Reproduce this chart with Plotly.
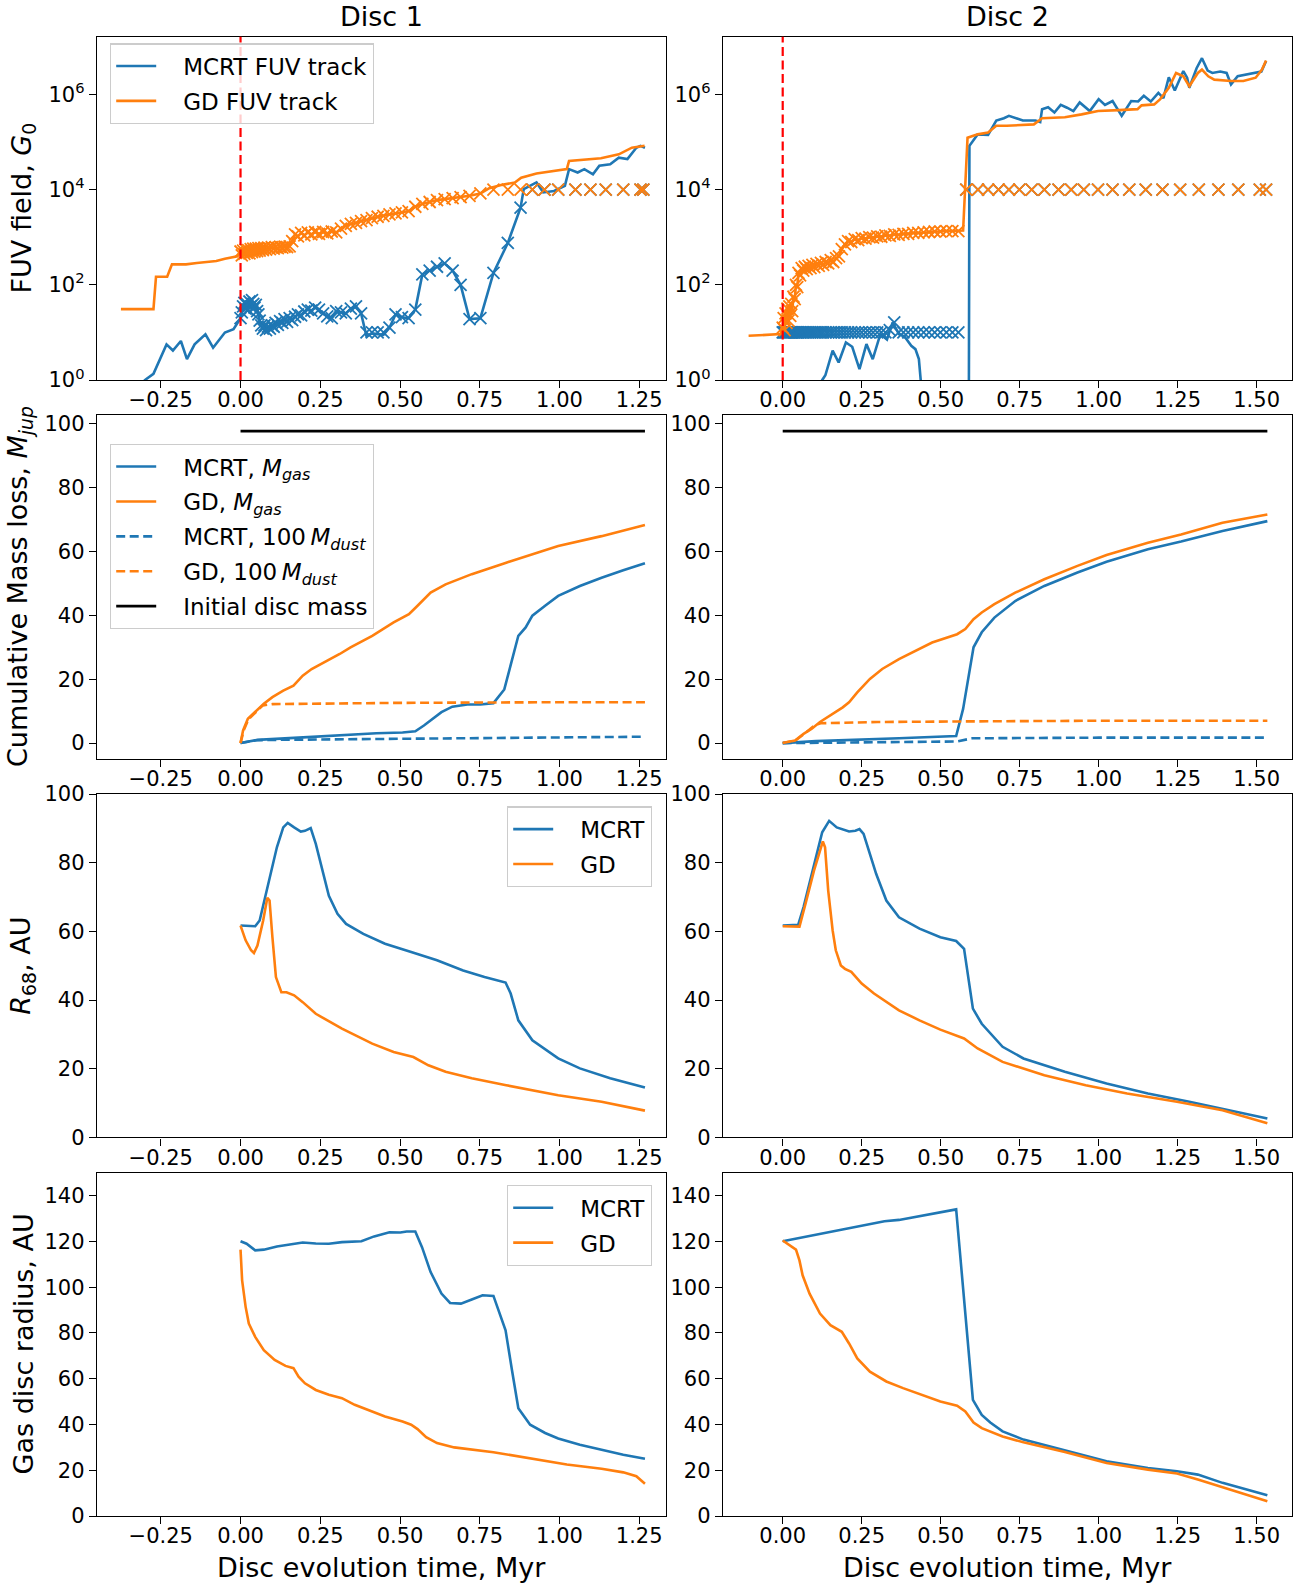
import plotly.graph_objects as go

BLUE = '#1f77b4'
ORANGE = '#ff7f0e'
FONT = 'DejaVu Sans'
W, H = 1300, 1585

# ---------------- DATA ----------------
# Row 1, Disc 1 : FUV field (log10 G0) vs time (Myr)
d1_mcrt_line_t = [-0.32, -0.300, -0.273, -0.232, -0.212, -0.187, -0.168, -0.144, -0.110, -0.086, -0.049, -0.022,
                  0.000, 0.004, 0.008, 0.012, 0.016, 0.020, 0.024, 0.028, 0.032, 0.036, 0.040, 0.044, 0.048, 0.052,
                  0.056, 0.060, 0.065, 0.070, 0.075, 0.080, 0.086, 0.092, 0.098, 0.104, 0.110, 0.117, 0.124, 0.131,
                  0.138, 0.146, 0.154, 0.162, 0.171, 0.180, 0.190, 0.200, 0.211, 0.222, 0.234, 0.246, 0.259, 0.272,
                  0.286, 0.300, 0.315, 0.330, 0.346, 0.362, 0.378, 0.395, 0.412, 0.430, 0.448, 0.467, 0.486, 0.506,
                  0.527, 0.548, 0.570, 0.593, 0.616, 0.640, 0.665, 0.690, 0.718, 0.752, 0.793, 0.838, 0.878, 0.888,
                  0.928, 0.949, 0.983, 1.017, 1.030, 1.057, 1.078, 1.105, 1.125, 1.159, 1.186, 1.213, 1.241, 1.254, 1.268]
d1_mcrt_line_logG0 = [-0.2, 0.0, 0.13, 0.75, 0.62, 0.82, 0.44, 0.75, 0.96, 0.68, 1.00, 1.07,
                      1.30, 1.42, 1.55, 1.62, 1.50, 1.60, 1.48, 1.65, 1.55, 1.68, 1.60, 1.52, 1.58, 1.45,
                      1.38, 1.25, 1.15, 1.08, 1.15, 1.05, 1.12, 1.08, 1.15, 1.12, 1.20, 1.16, 1.24, 1.20,
                      1.28, 1.22, 1.30, 1.26, 1.33, 1.38, 1.36, 1.44, 1.48, 1.46, 1.52, 1.48, 1.40, 1.34,
                      1.30, 1.45, 1.42, 1.40, 1.50, 1.55, 1.40, 0.92, 0.98, 0.97, 0.95, 1.10, 1.38, 1.32,
                      1.30, 1.48, 2.22, 2.30, 2.38, 2.45, 2.30, 2.00, 1.28, 1.30, 2.25, 2.88, 3.62, 4.01,
                      4.15, 3.94, 3.97, 4.08, 4.43, 4.36, 4.43, 4.32, 4.50, 4.53, 4.67, 4.64, 4.88, 4.92, 4.88]
d1_marker_t = [0.000, 0.004, 0.008, 0.012, 0.016, 0.020, 0.024, 0.028, 0.032, 0.036, 0.040, 0.044, 0.048, 0.052,
               0.056, 0.060, 0.065, 0.070, 0.075, 0.080, 0.086, 0.092, 0.098, 0.104, 0.110, 0.117, 0.124, 0.131,
               0.138, 0.146, 0.154, 0.162, 0.171, 0.180, 0.190, 0.200, 0.211, 0.222, 0.234, 0.246, 0.259, 0.272,
               0.286, 0.300, 0.315, 0.330, 0.346, 0.362, 0.378, 0.395, 0.412, 0.430, 0.448, 0.467, 0.486, 0.506,
               0.527, 0.548, 0.570, 0.593, 0.616, 0.640, 0.665, 0.690, 0.718, 0.752, 0.793, 0.838, 0.878, 0.915,
               0.953, 0.996, 1.050, 1.097, 1.145, 1.200, 1.254, 1.263]
d1_mcrt_marker_logG0 = [1.30, 1.42, 1.55, 1.62, 1.50, 1.60, 1.48, 1.65, 1.55, 1.68, 1.60, 1.52, 1.58, 1.45,
                        1.38, 1.25, 1.15, 1.08, 1.15, 1.05, 1.12, 1.08, 1.15, 1.12, 1.20, 1.16, 1.24, 1.20,
                        1.28, 1.22, 1.30, 1.26, 1.33, 1.38, 1.36, 1.44, 1.48, 1.46, 1.52, 1.48, 1.40, 1.34,
                        1.30, 1.45, 1.42, 1.40, 1.50, 1.55, 1.40, 1.00, 1.00, 1.00, 1.00, 1.10, 1.38, 1.32,
                        1.30, 1.48, 2.22, 2.30, 2.38, 2.45, 2.30, 2.00, 1.28, 1.30, 2.25, 2.88, 3.62, 4.0,
                        4.0, 4.0, 4.0, 4.0, 4.0, 4.0, 4.0, 4.0]
d1_gd_marker_logG0 = [2.70, 2.62, 2.72, 2.65, 2.74, 2.67, 2.73, 2.66, 2.75, 2.69, 2.76, 2.70, 2.76, 2.71,
                      2.77, 2.72, 2.77, 2.73, 2.78, 2.74, 2.78, 2.75, 2.79, 2.76, 2.79, 2.77, 2.80, 2.78,
                      2.80, 2.79, 2.81, 2.92, 3.06, 3.02, 3.09, 3.04, 3.10, 3.06, 3.11, 3.07, 3.11, 3.08,
                      3.12, 3.10, 3.18, 3.24, 3.28, 3.30, 3.34, 3.36, 3.40, 3.43, 3.45, 3.48, 3.50, 3.52,
                      3.55, 3.64, 3.70, 3.74, 3.78, 3.80, 3.82, 3.84, 3.87, 3.92, 4.0, 4.0, 4.0, 4.0,
                      4.0, 4.0, 4.0, 4.0, 4.0, 4.0, 4.0, 4.0]
d1_gd_line_t = [-0.375, -0.273, -0.265, -0.230, -0.215, -0.171, -0.137, -0.076, -0.049, -0.010,
                0.000, 0.004, 0.008, 0.012, 0.016, 0.020, 0.024, 0.028, 0.032, 0.036, 0.040, 0.044, 0.048, 0.052,
                0.056, 0.060, 0.065, 0.070, 0.075, 0.080, 0.086, 0.092, 0.098, 0.104, 0.110, 0.117, 0.124, 0.131,
                0.138, 0.146, 0.154, 0.162, 0.171, 0.180, 0.190, 0.200, 0.211, 0.222, 0.234, 0.246, 0.259, 0.272,
                0.286, 0.300, 0.315, 0.330, 0.346, 0.362, 0.378, 0.395, 0.412, 0.430, 0.448, 0.467, 0.486, 0.506,
                0.527, 0.548, 0.570, 0.593, 0.616, 0.640, 0.665, 0.690, 0.718, 0.752,
                0.780, 0.820, 0.860, 0.880, 0.928, 1.023, 1.030, 1.130, 1.186, 1.227, 1.267]
d1_gd_line_logG0 = [1.49, 1.49, 2.17, 2.17, 2.43, 2.43, 2.46, 2.50, 2.55, 2.60,
                    2.70, 2.62, 2.72, 2.65, 2.74, 2.67, 2.73, 2.66, 2.75, 2.69, 2.76, 2.70, 2.76, 2.71,
                    2.77, 2.72, 2.77, 2.73, 2.78, 2.74, 2.78, 2.75, 2.79, 2.76, 2.79, 2.77, 2.80, 2.78,
                    2.80, 2.79, 2.81, 2.92, 3.06, 3.02, 3.09, 3.04, 3.10, 3.06, 3.11, 3.07, 3.11, 3.08,
                    3.12, 3.10, 3.18, 3.24, 3.28, 3.30, 3.34, 3.36, 3.40, 3.43, 3.45, 3.48, 3.50, 3.52,
                    3.55, 3.64, 3.70, 3.74, 3.78, 3.80, 3.82, 3.84, 3.87, 3.92,
                    4.03, 4.10, 4.15, 4.25, 4.34, 4.43, 4.60, 4.66, 4.74, 4.88, 4.92]

# Row 1, Disc 2
d2_marker_t = [0.000, 0.003, 0.006, 0.009, 0.012, 0.015, 0.018, 0.021, 0.024, 0.027, 0.030, 0.034, 0.038, 0.042,
               0.046, 0.050, 0.055, 0.060, 0.065, 0.070, 0.076, 0.082, 0.088, 0.094, 0.100, 0.107, 0.114, 0.121,
               0.128, 0.136, 0.144, 0.152, 0.160, 0.169, 0.178, 0.187, 0.197, 0.207, 0.217, 0.228, 0.239, 0.250,
               0.262, 0.274, 0.286, 0.299, 0.312, 0.325, 0.339, 0.353, 0.367, 0.382, 0.397, 0.413, 0.429, 0.446,
               0.463, 0.481, 0.499, 0.518, 0.537, 0.556, 0.581, 0.618, 0.650, 0.683, 0.716, 0.749, 0.788, 0.828,
               0.873, 0.913, 0.953, 0.998, 1.044, 1.097, 1.149, 1.202, 1.258, 1.317, 1.379, 1.442, 1.510, 1.530]
d2_mcrt_marker_logG0 = [1.0] * 48 + [1.05, 1.21] + [1.0] * 12 + [4.0] * 22
d2_gd_marker_logG0 = [1.10, 1.30, 1.05, 1.40, 1.20, 1.50, 1.25, 1.55, 1.35, 1.60, 1.45, 1.75, 1.70, 2.00,
                      1.95, 2.25, 2.20, 2.35, 2.30, 2.38, 2.33, 2.40, 2.35, 2.42, 2.37, 2.44, 2.40, 2.46,
                      2.42, 2.48, 2.45, 2.52, 2.48, 2.56, 2.60, 2.75, 2.85, 2.92, 2.90, 2.96, 2.94, 2.98,
                      2.97, 3.00, 2.99, 3.02, 3.01, 3.04, 3.03, 3.06, 3.05, 3.07, 3.07, 3.09, 3.09, 3.10,
                      3.11, 3.12, 3.12, 3.13, 3.13, 3.13] + [4.0] * 22
d2_gd_line_t = [-0.108, -0.007,
                0.000, 0.003, 0.006, 0.009, 0.012, 0.015, 0.018, 0.021, 0.024, 0.027, 0.030, 0.034, 0.038, 0.042,
                0.046, 0.050, 0.055, 0.060, 0.065, 0.070, 0.076, 0.082, 0.088, 0.094, 0.100, 0.107, 0.114, 0.121,
                0.128, 0.136, 0.144, 0.152, 0.160, 0.169, 0.178, 0.187, 0.197, 0.207, 0.217, 0.228, 0.239, 0.250,
                0.262, 0.274, 0.286, 0.299, 0.312, 0.325, 0.339, 0.353, 0.367, 0.382, 0.397, 0.413, 0.429, 0.446,
                0.463, 0.481, 0.499, 0.518, 0.537, 0.556,
                0.571, 0.585, 0.617, 0.650, 0.676, 0.709, 0.795, 0.821, 0.893, 0.946, 0.998, 1.064, 1.123, 1.136,
                1.176, 1.195, 1.222, 1.245, 1.268, 1.287, 1.314, 1.327, 1.347, 1.366, 1.419, 1.458, 1.497, 1.517, 1.530]
d2_gd_line_logG0 = [0.93, 0.965,
                    1.10, 1.30, 1.05, 1.40, 1.20, 1.50, 1.25, 1.55, 1.35, 1.60, 1.45, 1.75, 1.70, 2.00,
                    1.95, 2.25, 2.20, 2.35, 2.30, 2.38, 2.33, 2.40, 2.35, 2.42, 2.37, 2.44, 2.40, 2.46,
                    2.42, 2.48, 2.45, 2.52, 2.48, 2.56, 2.60, 2.75, 2.85, 2.92, 2.90, 2.96, 2.94, 2.98,
                    2.97, 3.00, 2.99, 3.02, 3.01, 3.04, 3.03, 3.06, 3.05, 3.07, 3.07, 3.09, 3.09, 3.10,
                    3.11, 3.12, 3.12, 3.13, 3.13, 3.13,
                    3.14, 5.09, 5.16, 5.20, 5.34, 5.34, 5.37, 5.50, 5.52, 5.58, 5.65, 5.67, 5.69, 5.77,
                    5.79, 5.90, 6.14, 6.45, 6.38, 6.17, 6.45, 6.52, 6.38, 6.31, 6.28, 6.28, 6.35, 6.52, 6.71]
d2_mcrt_line_t = [-0.110, 0.110, 0.125, 0.135, 0.158, 0.177, 0.200, 0.220, 0.243, 0.265, 0.285, 0.309, 0.330,
                  0.348, 0.368, 0.385, 0.407, 0.420, 0.431, 0.436, 0.450, 0.589, 0.591, 0.617, 0.650, 0.676,
                  0.700, 0.716, 0.760, 0.800, 0.815, 0.821, 0.840, 0.860, 0.880, 0.900, 0.920, 0.940, 0.972,
                  1.000, 1.020, 1.044, 1.073, 1.103, 1.125, 1.143, 1.165, 1.189, 1.205, 1.222, 1.232, 1.241,
                  1.268, 1.280, 1.287, 1.310, 1.327, 1.345, 1.360, 1.385, 1.405, 1.419, 1.440, 1.470, 1.500,
                  1.515, 1.530]
d2_mcrt_line_logG0 = [-2.0, -1.0, 0.0, 0.10, 0.62, 0.37, 0.79, 0.70, 0.23, 0.755, 0.44, 0.965, 0.85,
                      1.21, 0.965, 0.92, 0.72, 0.65, 0.44, 0.0, -1.0, -1.0, 4.92, 5.16, 5.15, 5.45,
                      5.50, 5.55, 5.45, 5.45, 5.42, 5.69, 5.73, 5.62, 5.78, 5.72, 5.65, 5.83, 5.65,
                      5.90, 5.78, 5.86, 5.55, 5.86, 5.85, 5.97, 5.85, 6.03, 5.92, 6.36, 6.22, 6.08,
                      6.49, 6.35, 6.14, 6.55, 6.76, 6.50, 6.45, 6.48, 6.45, 6.21, 6.38, 6.42, 6.45,
                      6.48, 6.70]

# Row 2: cumulative mass loss (M_jup)
d1_mcrt_mgas_t = [0, 0.053, 0.182, 0.318, 0.426, 0.508, 0.548, 0.575, 0.630, 0.664, 0.711, 0.752, 0.793, 0.827,
                  0.847, 0.871, 0.894, 0.915, 0.955, 0.996, 1.064, 1.132, 1.200, 1.268]
d1_mcrt_mgas = [0, 1.0, 1.7, 2.5, 3.1, 3.3, 3.7, 5.5, 9.7, 11.4, 12.1, 12.1, 12.5, 16.8,
                24.8, 33.6, 36.2, 39.9, 43.0, 46.1, 49.2, 51.8, 54.1, 56.3]
d1_gd_mgas_t = [0, 0.008, 0.023, 0.046, 0.073, 0.100, 0.134, 0.166, 0.195, 0.223, 0.263, 0.311, 0.345, 0.413,
                0.480, 0.528, 0.555, 0.596, 0.643, 0.725, 0.833, 0.928, 0.996, 1.132, 1.268]
d1_gd_mgas = [0, 3.95, 7.6, 9.7, 12.3, 14.4, 16.4, 18.0, 21.1, 23.2, 25.3, 27.9, 30.0, 33.6,
              37.8, 40.4, 43.0, 47.1, 49.7, 52.9, 56.5, 59.6, 61.7, 64.8, 68.3]
d1_mcrt_mdust_t = [0, 0.05, 0.10, 0.50, 0.90, 1.268]
d1_mcrt_mdust = [0, 0.9, 1.0, 1.4, 1.8, 2.0]
d1_gd_mdust_t = [0, 0.01, 0.025, 0.05, 0.07, 0.10, 0.50, 1.00, 1.268]
d1_gd_mdust = [0, 4.0, 7.5, 10.0, 11.8, 12.2, 12.6, 12.8, 12.8]
d1_initial_t = [0, 1.268]
d1_initial_mass = [97.7, 97.7]

d2_mcrt_mgas_t = [0, 0.105, 0.368, 0.549, 0.571, 0.604, 0.630, 0.670, 0.736, 0.828, 0.933, 1.025, 1.156,
                  1.261, 1.392, 1.534]
d2_mcrt_mgas = [0, 0.6, 1.5, 2.2, 10.7, 30.0, 34.7, 39.3, 44.5, 49.2, 53.4, 56.8, 60.7, 63.1, 66.4, 69.5]
d2_gd_mgas_t = [0, 0.039, 0.066, 0.092, 0.118, 0.158, 0.190, 0.210, 0.236, 0.276, 0.315, 0.368, 0.433, 0.473,
                0.552, 0.578, 0.604, 0.630, 0.670, 0.736, 0.828, 0.933, 1.025, 1.156, 1.261, 1.392, 1.534]
d2_gd_mgas = [0, 0.8, 2.9, 4.5, 6.6, 9.2, 11.2, 12.8, 15.9, 20.1, 23.2, 26.3, 29.4, 31.5,
              34.1, 35.7, 38.8, 40.9, 43.5, 47.1, 51.3, 55.5, 58.9, 62.7, 65.3, 69.0, 71.6]
d2_mcrt_mdust_t = [0, 0.30, 0.55, 0.60, 1.00, 1.534]
d2_mcrt_mdust = [0, 0.3, 0.5, 1.5, 1.7, 1.7]
d2_gd_mdust_t = [0, 0.04, 0.07, 0.10, 0.12, 0.30, 0.60, 1.00, 1.534]
d2_gd_mdust = [0, 0.8, 3.0, 5.5, 6.2, 6.6, 6.8, 7.0, 7.0]
d2_initial_t = [0, 1.534]
d2_initial_mass = [97.7, 97.7]

# Row 3: R68 (AU)
d1_mcrt_r68_t = [0, 0.046, 0.060, 0.087, 0.114, 0.134, 0.148, 0.168, 0.189, 0.202, 0.220, 0.236, 0.257, 0.277,
                 0.304, 0.331, 0.385, 0.453, 0.535, 0.616, 0.698, 0.765, 0.831, 0.847, 0.871, 0.915, 0.996,
                 1.064, 1.159, 1.268]
d1_mcrt_r68 = [61.7, 61.5, 63.2, 73.8, 84.5, 90.3, 91.6, 90.3, 89.1, 89.3, 90.1, 85.5, 77.7, 70.4,
               65.1, 62.2, 59.3, 56.4, 54.0, 51.6, 48.6, 46.7, 45.1, 41.9, 34.1, 28.3, 23.0,
               20.1, 17.2, 14.5]
d1_gd_r68_t = [0, 0.016, 0.033, 0.042, 0.053, 0.071, 0.084, 0.091, 0.100, 0.111, 0.128, 0.144, 0.168, 0.195,
               0.236, 0.318, 0.413, 0.480, 0.542, 0.589, 0.643, 0.725, 0.833, 0.996, 1.132, 1.268]
d1_gd_r68 = [61.7, 57.4, 54.5, 53.7, 55.9, 63.2, 69.8, 69.0, 58.3, 46.7, 42.3, 42.3, 41.4, 39.4,
             36.0, 31.7, 27.3, 24.9, 23.4, 21.0, 19.1, 17.2, 15.2, 12.3, 10.4, 7.8]
d2_mcrt_r68_t = [0, 0.049, 0.066, 0.099, 0.125, 0.147, 0.171, 0.210, 0.230, 0.243, 0.256, 0.296, 0.328, 0.368,
                 0.433, 0.499, 0.549, 0.574, 0.588, 0.602, 0.630, 0.696, 0.762, 0.893, 1.025, 1.156, 1.287,
                 1.392, 1.534]
d2_mcrt_r68 = [61.7, 61.9, 67.1, 79.7, 88.9, 92.2, 90.3, 89.1, 89.3, 89.8, 88.4, 76.7, 69.0, 64.1,
               60.8, 58.3, 57.2, 54.9, 45.7, 37.5, 33.1, 26.4, 23.0, 19.1, 15.7, 12.8, 10.4,
               8.4, 5.5]
d2_gd_r68_t = [0, 0.053, 0.072, 0.099, 0.127, 0.134, 0.144, 0.158, 0.168, 0.184, 0.197, 0.217, 0.250, 0.289,
               0.368, 0.433, 0.499, 0.574, 0.617, 0.696, 0.828, 0.959, 1.090, 1.248, 1.392, 1.534]
d2_gd_r68 = [61.5, 61.4, 68.0, 77.7, 86.2, 84.5, 71.9, 60.3, 54.5, 50.1, 49.1, 48.2, 44.8, 41.9,
             37.0, 34.1, 31.4, 28.8, 25.9, 22.0, 18.1, 15.2, 12.8, 10.4, 7.9, 4.1]

# Row 4: gas disc radius (AU)
d1_mcrt_rgas_t = [0, 0.019, 0.046, 0.073, 0.114, 0.155, 0.195, 0.236, 0.277, 0.318, 0.379, 0.419, 0.467, 0.501,
                  0.521, 0.548, 0.569, 0.596, 0.630, 0.657, 0.691, 0.725, 0.759, 0.793, 0.831, 0.851, 0.871,
                  0.908, 0.955, 0.996, 1.064, 1.132, 1.200, 1.268]
d1_mcrt_rgas = [120.1, 119.0, 116.1, 116.4, 117.8, 118.5, 119.5, 119.1, 119.0, 119.7, 120.1, 122.2, 124.0, 123.9,
                124.3, 124.3, 117.5, 106.6, 97.2, 93.1, 92.8, 94.6, 96.5, 96.2, 81.2, 63.8, 47.1,
                39.9, 36.3, 33.9, 31.2, 29.0, 26.8, 25.0]
d1_gd_rgas_t = [0, 0.005, 0.016, 0.026, 0.046, 0.073, 0.107, 0.141, 0.166, 0.182, 0.202, 0.236, 0.277, 0.318,
                0.358, 0.413, 0.453, 0.508, 0.535, 0.555, 0.582, 0.616, 0.670, 0.793, 0.928, 1.023, 1.132,
                1.200, 1.241, 1.268]
d1_gd_rgas = [116.4, 103.0, 91.4, 84.1, 78.3, 72.5, 68.2, 65.6, 64.6, 60.9, 58.0, 55.1, 53.0, 51.5,
              48.6, 45.7, 43.5, 41.3, 39.9, 38.0, 34.5, 31.9, 30.0, 27.9, 24.7, 22.5, 20.7,
              19.1, 17.4, 14.1]
d2_mcrt_rgas_t = [0, 0.322, 0.368, 0.549, 0.602, 0.630, 0.657, 0.696, 0.762, 0.893, 1.025, 1.156, 1.248,
                  1.314, 1.392, 1.534]
d2_mcrt_rgas = [120.1, 128.8, 129.4, 134.0, 50.8, 44.2, 40.9, 37.0, 33.4, 28.6, 23.9, 21.0, 19.6,
                18.1, 14.5, 9.1]
d2_gd_rgas_t = [0, 0.020, 0.042, 0.053, 0.063, 0.085, 0.118, 0.151, 0.187, 0.210, 0.236, 0.276, 0.328, 0.381,
                0.440, 0.499, 0.552, 0.578, 0.604, 0.630, 0.696, 0.762, 0.893, 1.025, 1.156, 1.248, 1.314, 1.534]
d2_gd_rgas = [120.4, 118.5, 116.4, 111.7, 105.2, 97.2, 88.5, 83.4, 80.5, 75.4, 68.9, 63.1, 58.8, 55.9,
              52.9, 50.1, 48.2, 45.7, 40.9, 38.4, 34.8, 32.2, 28.0, 23.2, 20.3, 18.6, 16.0, 6.5]

# tick labels
x1_ticks = [-0.25, 0.0, 0.25, 0.5, 0.75, 1.0, 1.25]
x1_labels = ['\u22120.25', '0.00', '0.25', '0.50', '0.75', '1.00', '1.25']
x2_ticks = [0.0, 0.25, 0.5, 0.75, 1.0, 1.25, 1.5]
x2_labels = ['0.00', '0.25', '0.50', '0.75', '1.00', '1.25', '1.50']
fuv_ticks = [1, 1e2, 1e4, 1e6]
fuv_labels = ['10<sup>0</sup>', '10<sup>2</sup>', '10<sup>4</sup>', '10<sup>6</sup>']

# ---------------- FIGURE ----------------
def pw(v):
    return [10 ** a for a in v]


# vertical placement helper: pixel-from-top -> paper fraction (compensates the observed render squeeze)
def py(p):
    return 1 - ((p - 10.6) / 0.986) / H


xdom = {1: [97 / W, 666 / W], 2: [723 / W, 1292 / W]}
ydom = {1: [py(379.1), py(35.4)], 2: [py(758.2), py(414.5)],
        3: [py(1137.3), py(793.6)], 4: [py(1516.4), py(1172.7)]}
xrng = {1: [-0.450, 1.334], 2: [-0.189, 1.612]}

fig = go.Figure()
LW = 2.6
PAD = '\u00a0\u00a0\u00a0'


def ax(r, c):
    k = (r - 1) * 2 + c
    return ('x' if k == 1 else f'x{k}'), ('y' if k == 1 else f'y{k}')


def line(r, c, x, y, color, name=None, dash=None, width=LW, legend='legend'):
    xa, ya = ax(r, c)
    fig.add_trace(go.Scatter(x=x, y=y, mode='lines', xaxis=xa, yaxis=ya,
                             line=dict(color=color, width=width, dash=dash),
                             name=(PAD + name) if name else '', showlegend=(name is not None and c == 1),
                             legend=legend, legendgroup=(name or '') + str(r), hoverinfo='skip'))


def marks(r, c, x, y, color):
    xa, ya = ax(r, c)
    fig.add_trace(go.Scatter(x=x, y=y, mode='markers', xaxis=xa, yaxis=ya, showlegend=False,
                             marker=dict(symbol='x-thin', size=12, color=color,
                                         line=dict(width=1.8, color=color)), hoverinfo='skip'))

# Row 1
line(1, 1, d1_mcrt_line_t, pw(d1_mcrt_line_logG0), BLUE, 'MCRT FUV track')
marks(1, 1, d1_marker_t, pw(d1_mcrt_marker_logG0), BLUE)
line(1, 1, d1_gd_line_t, pw(d1_gd_line_logG0), ORANGE, 'GD FUV track')
marks(1, 1, d1_marker_t, pw(d1_gd_marker_logG0), ORANGE)
line(1, 2, d2_mcrt_line_t, pw(d2_mcrt_line_logG0), BLUE, 'MCRT FUV track')
marks(1, 2, d2_marker_t, pw(d2_mcrt_marker_logG0), BLUE)
line(1, 2, d2_gd_line_t, pw(d2_gd_line_logG0), ORANGE, 'GD FUV track')
marks(1, 2, d2_marker_t, pw(d2_gd_marker_logG0), ORANGE)

# Row 2
DASH = '9px,4.5px'
for c, data in [(1, (d1_mcrt_mgas_t, d1_mcrt_mgas, d1_gd_mgas_t, d1_gd_mgas, d1_mcrt_mdust_t, d1_mcrt_mdust,
                     d1_gd_mdust_t, d1_gd_mdust, d1_initial_t, d1_initial_mass)),
                (2, (d2_mcrt_mgas_t, d2_mcrt_mgas, d2_gd_mgas_t, d2_gd_mgas, d2_mcrt_mdust_t, d2_mcrt_mdust,
                     d2_gd_mdust_t, d2_gd_mdust, d2_initial_t, d2_initial_mass))]:
    line(2, c, data[0], data[1], BLUE, 'MCRT, <i>M</i><sub><i>gas</i></sub>', legend='legend2')
    line(2, c, data[2], data[3], ORANGE, 'GD, <i>M</i><sub><i>gas</i></sub>', legend='legend2')
    line(2, c, data[4], data[5], BLUE, 'MCRT, 100\u2009<i>M</i><sub><i>dust</i></sub>', dash=DASH, legend='legend2')
    line(2, c, data[6], data[7], ORANGE, 'GD, 100\u2009<i>M</i><sub><i>dust</i></sub>', dash=DASH, legend='legend2')
    line(2, c, data[8], data[9], 'black', 'Initial disc mass', legend='legend2')

# Row 3
line(3, 1, d1_mcrt_r68_t, d1_mcrt_r68, BLUE, 'MCRT', legend='legend3')
line(3, 1, d1_gd_r68_t, d1_gd_r68, ORANGE, 'GD', legend='legend3')
line(3, 2, d2_mcrt_r68_t, d2_mcrt_r68, BLUE, 'MCRT', legend='legend3')
line(3, 2, d2_gd_r68_t, d2_gd_r68, ORANGE, 'GD', legend='legend3')

# Row 4
line(4, 1, d1_mcrt_rgas_t, d1_mcrt_rgas, BLUE, 'MCRT', legend='legend4')
line(4, 1, d1_gd_rgas_t, d1_gd_rgas, ORANGE, 'GD', legend='legend4')
line(4, 2, d2_mcrt_rgas_t, d2_mcrt_rgas, BLUE, 'MCRT', legend='legend4')
line(4, 2, d2_gd_rgas_t, d2_gd_rgas, ORANGE, 'GD', legend='legend4')

axis_common = dict(showline=True, linecolor='black', linewidth=1.4, mirror=True, ticks='outside',
                   ticklen=7, tickwidth=1.4, tickcolor='black', showgrid=False, zeroline=False,
                   tickfont=dict(family=FONT, size=21, color='black'))

layout = dict(width=W, height=H, margin=dict(l=0, r=0, t=0, b=0), paper_bgcolor='white',
              plot_bgcolor='white', font=dict(family=FONT, color='black'), showlegend=True)

yspec = {1: dict(type='log', range=[0, 7.21], tickvals=fuv_ticks, ticktext=fuv_labels),
         2: dict(range=[-4.9, 102.6], tickvals=[0, 20, 40, 60, 80, 100]),
         3: dict(range=[0, 100], tickvals=[0, 20, 40, 60, 80, 100]),
         4: dict(range=[0, 150], tickvals=[0, 20, 40, 60, 80, 100, 120, 140])}

for r in range(1, 5):
    for c in (1, 2):
        k = (r - 1) * 2 + c
        xn = 'xaxis' if k == 1 else f'xaxis{k}'
        yn = 'yaxis' if k == 1 else f'yaxis{k}'
        xa, ya = ax(r, c)
        layout[xn] = dict(domain=xdom[c], anchor=ya, range=xrng[c], ticklabelstandoff=-6,
                          tickvals=x1_ticks if c == 1 else x2_ticks,
                          ticktext=x1_labels if c == 1 else x2_labels, **axis_common)
        layout[yn] = dict(domain=ydom[r], anchor=xa, **yspec[r], **axis_common)

legbase = dict(bgcolor='rgba(255,255,255,0.8)', bordercolor='#cccccc', borderwidth=1.2,
               font=dict(family=FONT, size=23, color='black'), xanchor='left', yanchor='top',
               tracegroupgap=2, itemwidth=40)
layout['legend'] = dict(x=110 / W, y=py(42), **legbase)
layout['legend2'] = dict(x=110 / W, y=py(443), **legbase)
layout['legend3'] = dict(x=507 / W, y=py(806), **legbase)
layout['legend4'] = dict(x=507 / W, y=py(1185), **legbase)

fig.update_layout(**layout)

# red dashed vertical at t=0 in FUV panels
for c in (1, 2):
    xa, ya = ax(1, c)
    fig.add_shape(type='line', xref=xa, yref=ya + ' domain', x0=0, x1=0, y0=0, y1=1,
                  line=dict(color='red', width=2.2, dash='9px,4.5px'))

TF = 27
ann = []
for c, t in [(1, 'Disc 1'), (2, 'Disc 2')]:
    cx = (xdom[c][0] + xdom[c][1]) / 2
    ann.append(dict(text=t, x=cx, y=py(15), xref='paper', yref='paper', showarrow=False,
                    xanchor='center', yanchor='middle', font=dict(family=FONT, size=TF)))
    ann.append(dict(text='Disc evolution time, Myr', x=cx, y=py(1568), xref='paper', yref='paper',
                    showarrow=False, xanchor='center', yanchor='middle', font=dict(family=FONT, size=TF)))
ytitles = [(1, 'FUV field, <i>G</i><sub>0</sub>', 23), (2, 'Cumulative Mass loss, <i>M</i><sub><i>jup</i></sub>', 19),
           (3, '<i>R</i><sub>68</sub>, AU', 23), (4, 'Gas disc radius, AU', 23)]
for r, t, xp in ytitles:
    cy = (ydom[r][0] + ydom[r][1]) / 2
    ann.append(dict(text=t, x=xp / W, y=cy, xref='paper', yref='paper', showarrow=False, textangle=-90,
                    xanchor='center', yanchor='middle', font=dict(family=FONT, size=TF)))
fig.update_layout(annotations=ann)

fig.write_html('out.html')
